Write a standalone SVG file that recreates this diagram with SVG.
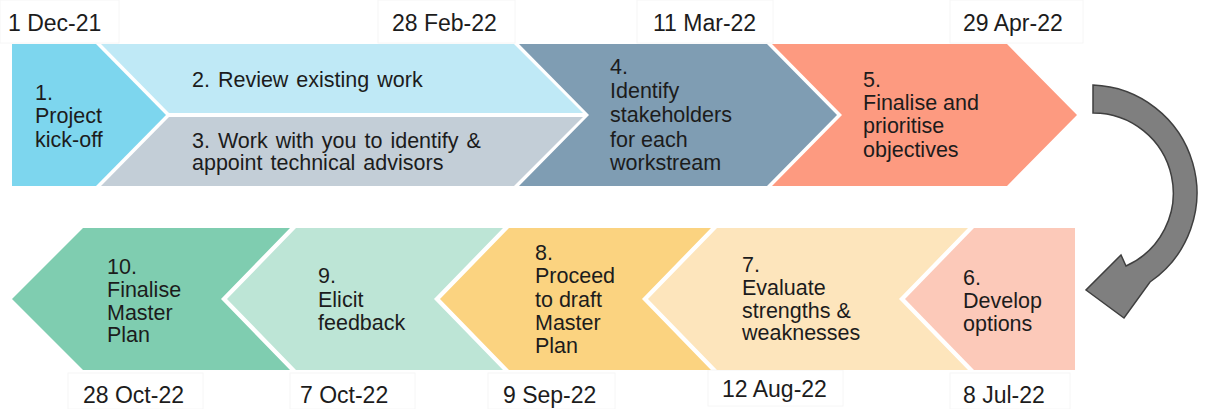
<svg xmlns="http://www.w3.org/2000/svg" width="1205" height="409" viewBox="0 0 1205 409">
  <style>
    .lbl { font-family: "Liberation Sans", Arial, sans-serif; font-size: 21.5px; fill: #1c1c1c; }
    .date { font-family: "Liberation Sans", Arial, sans-serif; font-size: 23px; fill: #1c1c1c; }
    .dbox { fill: #ffffff; stroke: #f6f6f6; stroke-width: 1; }
  </style>
  <rect width="1205" height="409" fill="#ffffff"/>

  <!-- milestone dates -->
  <g id="dates">
    <rect class="dbox" x="0" y="0" width="119" height="43"/>
    <rect class="dbox" x="378" y="0" width="137" height="43"/>
    <rect class="dbox" x="637" y="0" width="136" height="43"/>
    <rect class="dbox" x="950" y="0" width="133" height="43"/>
    <rect class="dbox" x="68" y="373" width="135" height="36"/>
    <rect class="dbox" x="290" y="373" width="125" height="36"/>
    <rect class="dbox" x="488" y="373" width="127" height="36"/>
    <rect class="dbox" x="708" y="370" width="135" height="36"/>
    <rect class="dbox" x="950" y="373" width="120" height="36"/>
    <text class="date" x="8" y="31">1 Dec-21</text>
    <text class="date" x="392" y="31">28 Feb-22</text>
    <text class="date" x="653" y="31">11 Mar-22</text>
    <text class="date" x="963" y="31">29 Apr-22</text>
    <text class="date" x="83" y="403">28 Oct-22</text>
    <text class="date" x="300" y="403">7 Oct-22</text>
    <text class="date" x="503" y="403">9 Sep-22</text>
    <text class="date" x="722" y="397">12 Aug-22</text>
    <text class="date" x="963" y="403">8 Jul-22</text>
  </g>

  <!-- top row, left to right -->
  <g id="step1">
    <polygon points="12,44 96,44 166,115 96,186 12,186" fill="#7dd6ee"/>
    <text class="lbl" x="35" y="100">1.</text>
    <text class="lbl" x="35" y="123">Project</text>
    <text class="lbl" x="35" y="147">kick-off</text>
  </g>
  <g id="step2">
    <polygon points="101,44 514,44 583,113 169,113" fill="#bfe9f6"/>
    <text class="lbl" x="192" y="87" word-spacing="2">2. Review existing work</text>
  </g>
  <g id="step3">
    <polygon points="169,117 583,117 514,186 101,186" fill="#c3ced7"/>
    <text class="lbl" x="192" y="148" word-spacing="2">3. Work with you to identify &amp;</text>
    <text class="lbl" x="192" y="170" word-spacing="2">appoint technical advisors</text>
  </g>
  <g id="step4">
    <polygon points="519,44 767,44 837,115 767,186 519,186 589,115" fill="#7f9db3"/>
    <text class="lbl" x="610" y="74">4.</text>
    <text class="lbl" x="610" y="98">Identify</text>
    <text class="lbl" x="610" y="122">stakeholders</text>
    <text class="lbl" x="610" y="147">for each</text>
    <text class="lbl" x="610" y="170">workstream</text>
  </g>
  <g id="step5">
    <polygon points="772,44 1007,44 1077,115 1007,186 772,186 842,115" fill="#fd9a80"/>
    <text class="lbl" x="863" y="87">5.</text>
    <text class="lbl" x="863" y="110">Finalise and</text>
    <text class="lbl" x="863" y="133">prioritise</text>
    <text class="lbl" x="863" y="157">objectives</text>
  </g>

  <!-- bottom row, right to left -->
  <g id="step6">
    <polygon points="974,228 1075,228 1075,370 974,370 905,299" fill="#fcc9b9"/>
    <text class="lbl" x="963" y="285">6.</text>
    <text class="lbl" x="963" y="308">Develop</text>
    <text class="lbl" x="963" y="331">options</text>
  </g>
  <g id="step7">
    <polygon points="717,228 968,228 899,299 968,370 717,370 648,299" fill="#fde5bc"/>
    <text class="lbl" x="742" y="272">7.</text>
    <text class="lbl" x="742" y="295">Evaluate</text>
    <text class="lbl" x="742" y="318">strengths &amp;</text>
    <text class="lbl" x="742" y="340">weaknesses</text>
  </g>
  <g id="step8">
    <polygon points="509,228 711,228 642,299 711,370 509,370 440,299" fill="#fbd380"/>
    <text class="lbl" x="535" y="260">8.</text>
    <text class="lbl" x="535" y="283">Proceed</text>
    <text class="lbl" x="535" y="307">to draft</text>
    <text class="lbl" x="535" y="330">Master</text>
    <text class="lbl" x="535" y="353">Plan</text>
  </g>
  <g id="step9">
    <polygon points="296,228 503,228 434,299 503,370 296,370 227,299" fill="#bde5d6"/>
    <text class="lbl" x="318" y="283">9.</text>
    <text class="lbl" x="318" y="307">Elicit</text>
    <text class="lbl" x="318" y="330">feedback</text>
  </g>
  <g id="step10">
    <polygon points="83,228 290,228 221,299 290,370 83,370 12,299" fill="#7fcdb0"/>
    <text class="lbl" x="107" y="274">10.</text>
    <text class="lbl" x="107" y="297">Finalise</text>
    <text class="lbl" x="107" y="320">Master</text>
    <text class="lbl" x="107" y="342">Plan</text>
  </g>

  <!-- curved arrow turning from the top row to the bottom row -->
  <g id="connectors">
    <path d="M1093,85 A108,108 0 0 1 1150,282 L1124,318 L1086,290 L1121,255 L1126,266 A80,80 0 0 0 1093,113 Z"
          fill="#7f7f7f" stroke="#3f3f3f" stroke-width="1.5" stroke-linejoin="miter"/>
  </g>
</svg>
